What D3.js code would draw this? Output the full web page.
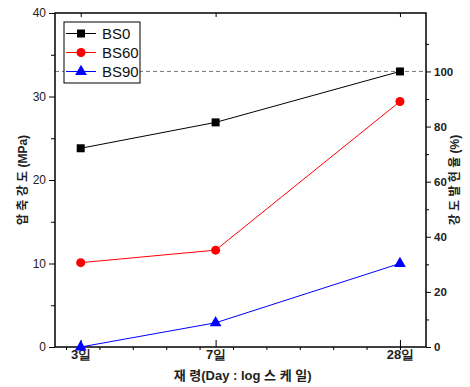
<!DOCTYPE html>
<html>
<head>
<meta charset="utf-8">
<script src="https://cdn.jsdelivr.net/npm/d3@7"></script>
<style>
  body { margin: 0; background: #fff; }
  svg { font-family: "Liberation Sans", Arial, "Noto Sans CJK KR", sans-serif; }
</style>
</head>
<body>
<div id="chart"></div>
<script>
// age categories and where they sit on the (stretched) x axis, in axis units
const ages = ["3일", "7일", "28일"];
const ageAxisVal = [0.44, 4.48, 10];

const seriesNames = ["BS0", "BS60", "BS90"];
const bs0 = [23.8, 26.9, 33.0];
const bs60 = [10.1, 11.6, 29.4];
const bs90 = [0.0, 2.9, 10.0];

const leftTicks = [0, 10, 20, 30, 40];
const rightTicks = [0, 20, 40, 60, 80, 100];
const refRatio = 100; // dashed line, % of BS0 at 28 days

const colors = ["#000000", "#ff0000", "#0000ff"];
const shapes = [d3.symbolSquare, d3.symbolCircle, d3.symbolTriangle];

const width = 470, height = 387;
const margin = { top: 13, right: 44, bottom: 40, left: 55 };
const w = width - margin.left - margin.right;
const h = height - margin.top - margin.bottom;

const svg = d3.select("#chart").append("svg")
  .attr("width", width).attr("height", height);
const g = svg.append("g")
  .attr("transform", "translate(" + margin.left + "," + margin.top + ")");

const x = d3.scaleLinear().domain([-0.33, 10.78]).range([0, w]);
const y = d3.scaleLinear().domain([0, 40]).range([h, 0]);
// right axis: 100% = BS0 at 28 days
const y2 = d3.scaleLinear().domain([0, 40 / bs0[2] * 100]).range([h, 0]);

// dashed 100% line
g.append("line")
  .attr("x1", 0).attr("x2", w)
  .attr("y1", y2(refRatio)).attr("y2", y2(refRatio))
  .attr("stroke", "#777").attr("stroke-dasharray", "4,3").attr("stroke-width", 1);

// frame
g.append("rect").attr("width", w).attr("height", h)
  .attr("fill", "none").attr("stroke", "#000").attr("stroke-width", 1.5);

// left axis
const yAxis = g.append("g")
  .call(d3.axisLeft(y).tickValues(leftTicks).tickSize(6).tickPadding(3));
yAxis.append("g").call(d3.axisLeft(y).tickValues(d3.range(5, 40, 10)).tickSize(4).tickFormat(""));
// right axis
const y2Axis = g.append("g").attr("transform", "translate(" + w + ",0)")
  .call(d3.axisRight(y2).tickValues(rightTicks).tickSize(5).tickPadding(3));
y2Axis.append("g").call(d3.axisRight(y2).tickValues(d3.range(10, 120, 20)).tickSize(3).tickFormat(""));
// bottom axis: majors inward, minors outward
const xAxis = g.append("g").attr("transform", "translate(0," + h + ")")
  .call(d3.axisBottom(x).tickValues(ageAxisVal).tickSize(-7).tickPadding(3)
    .tickFormat((d, i) => ages[i]));
xAxis.append("g").call(d3.axisBottom(x).tickValues(d3.range(0, 11, 1)).tickSize(3).tickFormat(""));
g.append("g").call(d3.axisTop(x).tickValues(ageAxisVal).tickSize(-4).tickFormat(""));

[yAxis, y2Axis, xAxis].forEach(a => {
  a.select(".domain").remove();
  a.selectAll("line").attr("stroke", "#000").attr("stroke-width", 1);
});
g.selectAll(".domain").remove();
yAxis.selectAll("text").attr("font-size", 12).attr("fill", "#222");
y2Axis.selectAll("text").attr("font-size", 11.5).attr("font-weight", "bold").attr("fill", "#222");
xAxis.selectAll("text").attr("font-size", 13).attr("font-weight", "bold").attr("fill", "#222");

// series
const data = [bs0, bs60, bs90];
const line = d3.line().x((d, i) => x(ageAxisVal[i])).y(d => y(d));
data.forEach((vals, s) => {
  g.append("path").datum(vals)
    .attr("d", line).attr("fill", "none")
    .attr("stroke", colors[s]).attr("stroke-width", 1);
  g.selectAll(".pt" + s).data(vals).enter().append("path")
    .attr("transform", (d, i) => "translate(" + x(ageAxisVal[i]) + "," + y(d) + ")")
    .attr("d", d3.symbol().type(shapes[s]).size(s === 2 ? 60 : 64))
    .attr("fill", colors[s]);
});

// legend
const lg = g.append("g").attr("transform", "translate(9,9)");
lg.append("rect").attr("width", 76).attr("height", 61)
  .attr("fill", "#fff").attr("stroke", "#000").attr("stroke-width", 1);
seriesNames.forEach((name, s) => {
  const ly = 11.5 + s * 19;
  lg.append("line").attr("x1", 2).attr("x2", 32).attr("y1", ly).attr("y2", ly)
    .attr("stroke", colors[s]).attr("stroke-width", 1);
  lg.append("path").attr("transform", "translate(17," + ly + ")")
    .attr("d", d3.symbol().type(shapes[s]).size(s === 2 ? 60 : 64))
    .attr("fill", colors[s]);
  lg.append("text").attr("x", 38).attr("y", ly).attr("dy", "0.36em")
    .attr("font-size", 15).attr("fill", "#111").text(name);
});

// axis titles
svg.append("text")
  .attr("transform", "translate(23," + (margin.top + h / 2) + ") rotate(-90)")
  .attr("text-anchor", "middle").attr("dy", "0.35em")
  .attr("font-size", 12).attr("font-weight", "bold").attr("fill", "#222")
  .text("압 축 강 도 (MPa)");
svg.append("text")
  .attr("transform", "translate(455," + (margin.top + h / 2) + ") rotate(-90)")
  .attr("text-anchor", "middle").attr("dy", "0.35em")
  .attr("font-size", 12).attr("font-weight", "bold").attr("fill", "#222")
  .text("강 도 발 현 율 (%)");
svg.append("text")
  .attr("x", margin.left + x(4.48) + 27).attr("y", 380)
  .attr("text-anchor", "middle")
  .attr("font-size", 13).attr("font-weight", "bold").attr("fill", "#222")
  .text("재 령(Day : log 스 케 일)");
</script>
</body>
</html>
